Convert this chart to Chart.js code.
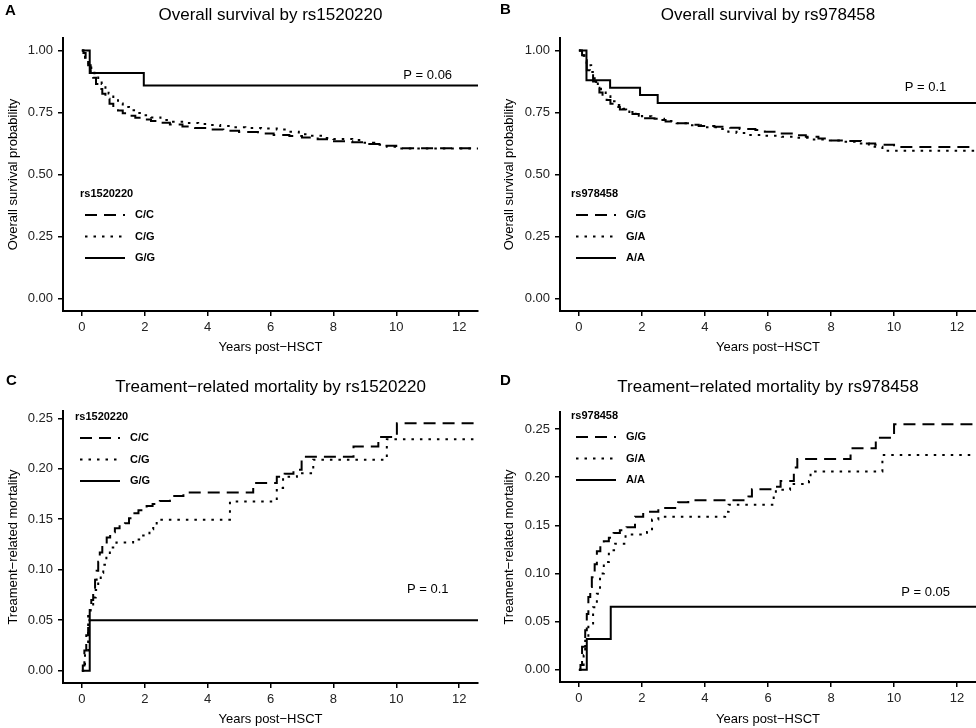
<!DOCTYPE html>
<html>
<head>
<meta charset="utf-8">
<title>Survival and TRM by genotype</title>
<script src="https://cdn.jsdelivr.net/npm/chart.js@4.4.0/dist/chart.umd.min.js"></script>
<style>
  body { margin: 0; background: #fff; width: 976px; height: 728px; position: relative; overflow: hidden; }
  canvas { position: absolute; }
</style>
</head>
<body>
<canvas id="pA" width="488" height="364" style="left:0;top:0"></canvas>
<canvas id="pB" width="488" height="364" style="left:488px;top:0"></canvas>
<canvas id="pC" width="488" height="364" style="left:0;top:364px"></canvas>
<canvas id="pD" width="488" height="364" style="left:488px;top:364px"></canvas>
<script>
// tick labels
const xTicks = [0, 2, 4, 6, 8, 10, 12];
const survTicks = [0, 0.25, 0.5, 0.75, 1];
const trmTicks = [0, 0.05, 0.1, 0.15, 0.2, 0.25];

// A: overall survival by rs1520220
const aCCt = [0, 0.05, 0.12, 0.2, 0.28, 0.36, 0.45, 0.55, 0.65, 0.75, 0.88, 1.0, 1.15, 1.3, 1.5, 1.7, 1.95, 2.2, 2.5, 2.8, 3.2, 3.6, 4.0, 4.5, 5.0, 5.6, 6.1, 6.6, 7.0, 7.5, 7.9, 8.6, 9.05, 9.6, 10.0, 12.6];
const aCCv = [1, 0.99, 0.965, 0.94, 0.915, 0.89, 0.865, 0.845, 0.825, 0.805, 0.785, 0.77, 0.758, 0.747, 0.737, 0.729, 0.722, 0.716, 0.709, 0.701, 0.693, 0.687, 0.681, 0.676, 0.671, 0.665, 0.659, 0.655, 0.649, 0.642, 0.634, 0.63, 0.623, 0.616, 0.606, 0.606];
const aCGt = [0, 0.1, 0.2, 0.3, 0.4, 0.52, 0.63, 0.75, 0.85, 1.0, 1.15, 1.3, 1.5, 1.7, 1.9, 2.2, 2.5, 2.9, 3.3, 3.7, 4.0, 4.4, 4.8, 5.2, 5.7, 6.2, 6.5, 6.9, 7.2, 7.7, 8.0, 8.6, 8.95, 9.3, 9.7, 10.0, 12.6];
const aCGv = [1, 0.97, 0.94, 0.915, 0.9, 0.88, 0.865, 0.845, 0.826, 0.806, 0.786, 0.772, 0.759, 0.748, 0.739, 0.73, 0.72, 0.713, 0.708, 0.703, 0.699, 0.695, 0.69, 0.687, 0.685, 0.681, 0.672, 0.662, 0.656, 0.647, 0.643, 0.639, 0.628, 0.62, 0.612, 0.605, 0.605];
const aGGt = [0, 0.25, 1.97, 12.6];
const aGGv = [1, 0.909, 0.859, 0.859];

// B: overall survival by rs978458
const bGGt = [0, 0.1, 0.18, 0.25, 0.35, 0.45, 0.55, 0.65, 0.75, 0.88, 1.0, 1.15, 1.3, 1.5, 1.7, 1.9, 2.1, 2.4, 2.75, 3.15, 3.5, 3.8, 4.3, 4.8, 5.1, 5.6, 5.9, 6.3, 6.9, 7.2, 7.6, 7.9, 8.5, 8.95, 9.4, 10.0, 12.6];
const bGGv = [1, 0.98, 0.95, 0.92, 0.9, 0.875, 0.85, 0.83, 0.815, 0.8, 0.785, 0.772, 0.762, 0.752, 0.744, 0.737, 0.727, 0.72, 0.714, 0.706, 0.7, 0.695, 0.692, 0.688, 0.683, 0.679, 0.672, 0.665, 0.658, 0.652, 0.645, 0.637, 0.635, 0.625, 0.62, 0.611, 0.611];
const bGAt = [0, 0.15, 0.25, 0.39, 0.5, 0.6, 0.7, 0.85, 1.0, 1.2, 1.4, 1.6, 1.8, 2.0, 2.3, 2.7, 3.1, 3.5, 4.0, 4.4, 4.74, 5.0, 5.38, 5.9, 6.44, 6.9, 7.3, 7.8, 8.3, 8.78, 9.2, 9.63, 12.6];
const bGAv = [1, 0.96, 0.94, 0.913, 0.88, 0.855, 0.835, 0.815, 0.795, 0.78, 0.765, 0.752, 0.744, 0.735, 0.725, 0.716, 0.706, 0.698, 0.69, 0.683, 0.672, 0.667, 0.659, 0.656, 0.652, 0.648, 0.641, 0.637, 0.632, 0.625, 0.612, 0.596, 0.596];
const bAAt = [0, 0.24, 0.99, 1.94, 2.5, 12.6];
const bAAv = [1, 0.88, 0.85, 0.82, 0.788, 0.788];

// C: treatment-related mortality by rs1520220
const cCCt = [0, 0.03, 0.08, 0.14, 0.2, 0.25, 0.3, 0.36, 0.42, 0.47, 0.52, 0.57, 0.65, 0.79, 0.9, 1.05, 1.2, 1.37, 1.5, 1.63, 1.8, 2.06, 2.25, 2.48, 2.8, 3.23, 5.45, 6.2, 6.45, 6.73, 6.99, 8.64, 9.43, 10.02, 12.6];
const cCCv = [0, 0.005, 0.02, 0.035, 0.05, 0.06, 0.07, 0.079, 0.09, 0.099, 0.108, 0.117, 0.125, 0.132, 0.137, 0.141, 0.144, 0.146, 0.151, 0.156, 0.159, 0.163, 0.165, 0.168, 0.173, 0.1765, 0.186, 0.192, 0.195, 0.199, 0.212, 0.222, 0.2316, 0.245, 0.245];
const cCGt = [0, 0.1, 0.2, 0.28, 0.36, 0.44, 0.52, 0.6, 0.68, 0.78, 0.89, 1.1, 1.63, 1.95, 2.15, 2.27, 2.38, 4.71, 6.2, 6.4, 6.84, 7.36, 9.7, 12.6];
const cCGv = [0, 0.02, 0.056, 0.064, 0.0725, 0.08, 0.089, 0.097, 0.105, 0.113, 0.122, 0.127, 0.13, 0.134, 0.14, 0.1447, 0.1496, 0.1676, 0.181, 0.192, 0.1955, 0.209, 0.2293, 0.2293];
const cGGt = [0, 0.25, 12.6];
const cGGv = [0, 0.05, 0.05];

// D: treatment-related mortality by rs978458
const dGGt = [0, 0.05, 0.1, 0.2, 0.25, 0.3, 0.36, 0.41, 0.5, 0.57, 0.68, 0.79, 0.95, 1.1, 1.3, 1.51, 1.78, 2.04, 2.52, 3.15, 3.47, 5.38, 5.49, 6.2, 6.4, 6.82, 6.93, 8.62, 9.42, 10.0, 12.6];
const dGGv = [0, 0.005, 0.024, 0.041, 0.058, 0.0755, 0.086, 0.096, 0.1096, 0.123, 0.129, 0.1335, 0.137, 0.142, 0.145, 0.148, 0.159, 0.164, 0.168, 0.174, 0.176, 0.18, 0.1875, 0.19, 0.196, 0.21, 0.219, 0.23, 0.241, 0.255, 0.255];
const dGAt = [0, 0.15, 0.2, 0.3, 0.45, 0.57, 0.67, 0.79, 0.95, 1.15, 1.48, 2.16, 2.32, 2.52, 4.64, 4.75, 6.18, 6.25, 6.7, 7.3, 7.35, 9.63, 12.6];
const dGAv = [0, 0.015, 0.03, 0.048, 0.065, 0.079, 0.1, 0.112, 0.124, 0.131, 0.1404, 0.143, 0.156, 0.159, 0.164, 0.1715, 0.18, 0.187, 0.193, 0.196, 0.206, 0.223, 0.223];
const dAAt = [0, 0.25, 1.01, 12.6];
const dAAv = [0, 0.032, 0.0653, 0.0653];

const FONT = '"Liberation Sans", Arial, sans-serif';
const DASH = { dashed: [12, 7], dotted: [2.5, 6], solid: [] };

const km = (t, v) => t.map((x, i) => ({ x: x, y: v[i] }));

// letter, title, p value and the in-panel legend
const panelText = {
  id: 'panelText',
  afterDraw(chart, args, o) {
    const ctx = chart.ctx, a = chart.chartArea;
    const sx = chart.scales.x, sy = chart.scales.y;
    ctx.save();
    ctx.fillStyle = '#000';
    ctx.textBaseline = 'middle';
    ctx.textAlign = 'left';
    ctx.font = 'bold 15px ' + FONT;
    ctx.fillText(o.letter, o.letterX, o.letterY);
    ctx.textAlign = 'center';
    ctx.font = '17px ' + FONT;
    ctx.fillText(o.title, (a.left + a.right) / 2, o.titleY);
    ctx.font = '13px ' + FONT;
    ctx.fillText(o.pText, sx.getPixelForValue(o.pX), sy.getPixelForValue(o.pY));

    ctx.textAlign = 'left';
    ctx.font = 'bold 11px ' + FONT;
    ctx.fillText(o.legTitle, o.legX, o.legY);
    chart.data.datasets.forEach((ds, i) => {
      const y = o.legY + 21 + i * 21.5;
      ctx.beginPath();
      ctx.setLineDash(ds.borderDash);
      ctx.lineWidth = 2;
      ctx.strokeStyle = '#000';
      ctx.moveTo(o.legX + 5, y);
      ctx.lineTo(o.legX + 45, y);
      ctx.stroke();
      ctx.setLineDash([]);
      ctx.fillText(ds.label, o.legX + 55, y);
    });
    ctx.restore();
  }
};

const makePanel = (p) => {
  const datasets = p.series.map(s => ({
    label: s.label,
    data: km(s.t, s.v),
    stepped: true,
    borderColor: '#000',
    borderWidth: 2,
    borderDash: DASH[s.style],
    pointRadius: 0,
    fill: false
  }));
  const tickFont = { family: FONT, size: 13 };
  const titleFont = { family: FONT, size: 13 };
  new Chart(document.getElementById(p.id), {
    type: 'line',
    data: { datasets: datasets },
    plugins: [panelText],
    options: {
      responsive: false,
      animation: false,
      events: [],
      layout: { padding: { left: 0, right: 488 - p.area.right, top: p.area.top, bottom: 0 } },
      plugins: {
        legend: { display: false },
        tooltip: { enabled: false },
        panelText: p.text
      },
      scales: {
        x: {
          type: 'linear', min: -0.6, max: 12.6,
          afterBuildTicks: s => { s.ticks = xTicks.map(v => ({ value: v })); },
          afterFit: s => { s.height = 364 - p.area.bottom; },
          ticks: { color: '#222', font: tickFont, padding: 4, maxRotation: 0, callback: v => String(v) },
          grid: { drawOnChartArea: false, drawTicks: true, tickLength: 5, color: '#000', lineWidth: 1.5 },
          border: { display: true, color: '#000', width: 2 },
          title: { display: true, text: 'Years post\u2212HSCT', color: '#000', font: titleFont,
                   padding: { top: 0, bottom: 364 - p.xTitleY - 7.8 } }
        },
        y: {
          type: 'linear', min: p.ymin, max: p.ymax,
          afterBuildTicks: s => { s.ticks = p.yTicks.map(v => ({ value: v })); },
          afterFit: s => { s.width = p.area.left; },
          ticks: { color: '#222', font: tickFont, padding: 5, callback: v => v.toFixed(2) },
          grid: { drawOnChartArea: false, drawTicks: true, tickLength: 5, color: '#000', lineWidth: 1.5 },
          border: { display: true, color: '#000', width: 2 },
          title: { display: true, text: p.yTitle, color: '#000', font: titleFont,
                   padding: { top: p.yTitleX - 7.8, bottom: 0 } }
        }
      }
    }
  });
};

makePanel({
  id: 'pA', area: { left: 63, right: 478, top: 38, bottom: 311 },
  ymin: -0.05, ymax: 1.05, yTicks: survTicks, yTitle: 'Overall survival probability',
  xTitleY: 347, yTitleX: 13,
  series: [
    { label: 'C/C', t: aCCt, v: aCCv, style: 'dashed' },
    { label: 'C/G', t: aCGt, v: aCGv, style: 'dotted' },
    { label: 'G/G', t: aGGt, v: aGGv, style: 'solid' }
  ],
  text: { letter: 'A', letterX: 5, letterY: 11, title: 'Overall survival by rs1520220', titleY: 15,
          pText: 'P = 0.06', pX: 11, pY: 0.9, legTitle: 'rs1520220', legX: 80, legY: 194 }
});

makePanel({
  id: 'pB', area: { left: 72, right: 488, top: 38, bottom: 311 },
  ymin: -0.05, ymax: 1.05, yTicks: survTicks, yTitle: 'Overall survival probability',
  xTitleY: 347, yTitleX: 21.7,
  series: [
    { label: 'G/G', t: bGGt, v: bGGv, style: 'dashed' },
    { label: 'G/A', t: bGAt, v: bGAv, style: 'dotted' },
    { label: 'A/A', t: bAAt, v: bAAv, style: 'solid' }
  ],
  text: { letter: 'B', letterX: 12, letterY: 10, title: 'Overall survival by rs978458', titleY: 15,
          pText: 'P = 0.1', pX: 11, pY: 0.85, legTitle: 'rs978458', legX: 83, legY: 194 }
});

makePanel({
  id: 'pC', area: { left: 63, right: 478, top: 47, bottom: 319 },
  ymin: -0.01225, ymax: 0.25725, yTicks: trmTicks, yTitle: 'Treament\u2212related mortality',
  xTitleY: 355, yTitleX: 13.3,
  series: [
    { label: 'C/C', t: cCCt, v: cCCv, style: 'dashed' },
    { label: 'C/G', t: cCGt, v: cCGv, style: 'dotted' },
    { label: 'G/G', t: cGGt, v: cGGv, style: 'solid' }
  ],
  text: { letter: 'C', letterX: 6, letterY: 17, title: 'Treament\u2212related mortality by rs1520220', titleY: 23,
          pText: 'P = 0.1', pX: 11, pY: 0.08, legTitle: 'rs1520220', legX: 75, legY: 53 }
});

makePanel({
  id: 'pD', area: { left: 72, right: 488, top: 48, bottom: 318 },
  ymin: -0.01275, ymax: 0.26775, yTicks: trmTicks, yTitle: 'Treament\u2212related mortality',
  xTitleY: 355, yTitleX: 21.7,
  series: [
    { label: 'G/G', t: dGGt, v: dGGv, style: 'dashed' },
    { label: 'G/A', t: dGAt, v: dGAv, style: 'dotted' },
    { label: 'A/A', t: dAAt, v: dAAv, style: 'solid' }
  ],
  text: { letter: 'D', letterX: 12, letterY: 17, title: 'Treament\u2212related mortality by rs978458', titleY: 23,
          pText: 'P = 0.05', pX: 11, pY: 0.08, legTitle: 'rs978458', legX: 83, legY: 52 }
});
</script>
</body>
</html>
